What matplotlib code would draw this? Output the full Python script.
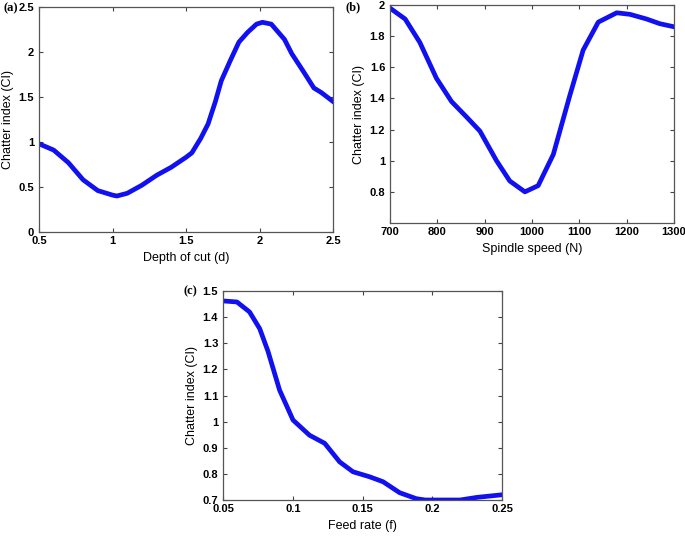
import matplotlib
matplotlib.use("Agg")
import matplotlib.pyplot as plt

# Panel (a): depth of cut
depth = [0.5, 0.6, 0.7, 0.8, 0.9, 1.0, 1.03, 1.1, 1.2, 1.3, 1.4, 1.5, 1.54, 1.6, 1.65,
         1.7, 1.74, 1.8, 1.86, 1.92, 1.98, 2.02, 2.08, 2.17, 2.22, 2.3, 2.37, 2.42, 2.5]
ci_depth = [0.98, 0.91, 0.77, 0.58, 0.46, 0.41, 0.40, 0.43, 0.52, 0.63, 0.72, 0.83, 0.88, 1.04, 1.20,
            1.45, 1.68, 1.90, 2.11, 2.22, 2.31, 2.33, 2.31, 2.14, 1.98, 1.78, 1.60, 1.55, 1.45]

# Panel (b): spindle speed
speed = [700, 732, 763, 798, 830, 862, 890, 925, 953, 985, 1013, 1045, 1080, 1108, 1140,
         1179, 1207, 1242, 1270, 1300]
ci_speed = [1.98, 1.91, 1.76, 1.53, 1.38, 1.28, 1.19, 1.00, 0.87, 0.80, 0.84, 1.04, 1.42, 1.71, 1.89,
            1.95, 1.94, 1.91, 1.88, 1.86]

# Panel (c): feed rate
feed = [0.05, 0.06, 0.069, 0.0763, 0.0822, 0.0906, 0.1002, 0.112, 0.1229, 0.1336, 0.1432,
        0.155, 0.1647, 0.1766, 0.1886, 0.195, 0.203, 0.22, 0.232, 0.25]
ci_feed = [1.462, 1.458, 1.42, 1.356, 1.27, 1.12, 1.006, 0.948, 0.917, 0.846, 0.808,
           0.789, 0.77, 0.728, 0.705, 0.70, 0.70, 0.70, 0.71, 0.72]

W, H = 685, 536
fig = plt.figure(figsize=(W / 100, H / 100), dpi=100)
fig.patch.set_facecolor("white")

LINE_COLOR = "#1010f0"
TICK_FONT = dict(family="Liberation Sans", size=8, weight="bold")
LABEL_FONT = dict(family="Liberation Sans", size=9)


def px_axes(left, top, right, bottom):
    return fig.add_axes([left / W, 1 - bottom / H, (right - left) / W, (bottom - top) / H])


def style(ax, xlim, ylim, xticks, yticks, xlabels, ylabels):
    ax.set_xlim(*xlim)
    ax.set_ylim(*ylim)
    ax.set_xticks(xticks)
    ax.set_yticks(yticks)
    ax.set_xticklabels(xlabels, fontdict=TICK_FONT)
    ax.set_yticklabels(ylabels, fontdict=TICK_FONT)
    ax.tick_params(direction="in", top=True, right=True, length=3, width=0.8,
                   color="#444444")
    ax.tick_params(axis="x", pad=3)
    ax.tick_params(axis="y", pad=3.5)
    for s in ax.spines.values():
        s.set_color("#555555")
        s.set_linewidth(0.9)


# (a)
axa = px_axes(39, 7, 333, 232)
axa.plot(depth, ci_depth, color=LINE_COLOR, lw=3.4, solid_joinstyle="round")
style(axa, (0.5, 2.5), (0, 2.5), [0.5, 1, 1.5, 2, 2.5], [0, 0.5, 1, 1.5, 2, 2.5],
      ["0.5", "1", "1.5", "2", "2.5"], ["0", "0.5", "1", "1.5", "2", "2.5"])
axa.set_xlabel("Depth of cut (d)", **LABEL_FONT, labelpad=4)
axa.set_ylabel("Chatter index (CI)", **LABEL_FONT, labelpad=3)
fig.text(4 / W, 1 - 8 / H, "(a)", family="Liberation Serif", weight="bold", size=9, va="center")

# (b)
axb = px_axes(390, 5, 674, 223)
axb.plot(speed, ci_speed, color=LINE_COLOR, lw=3.4, solid_joinstyle="round")
style(axb, (700, 1300), (0.6, 2.0), [700, 800, 900, 1000, 1100, 1200, 1300],
      [0.8, 1.0, 1.2, 1.4, 1.6, 1.8, 2.0],
      ["700", "800", "900", "1000", "1100", "1200", "1300"],
      ["0.8", "1", "1.2", "1.4", "1.6", "1.8", "2"])
axb.set_xlabel("Spindle speed (N)", **LABEL_FONT, labelpad=4)
axb.set_ylabel("Chatter index (CI)", **LABEL_FONT, labelpad=3)
fig.text(345 / W, 1 - 7 / H, "(b)", family="Liberation Serif", weight="bold", size=9, va="center")

# (c)
axc = px_axes(223, 291, 502, 500)
axc.plot(feed, ci_feed, color=LINE_COLOR, lw=3.4, solid_joinstyle="round")
style(axc, (0.05, 0.25), (0.7, 1.5), [0.05, 0.1, 0.15, 0.2, 0.25],
      [0.7, 0.8, 0.9, 1.0, 1.1, 1.2, 1.3, 1.4, 1.5],
      ["0.05", "0.1", "0.15", "0.2", "0.25"],
      ["0.7", "0.8", "0.9", "1", "1.1", "1.2", "1.3", "1.4", "1.5"])
axc.set_xlabel("Feed rate (f)", **LABEL_FONT, labelpad=4)
axc.set_ylabel("Chatter index (CI)", **LABEL_FONT, labelpad=3)
fig.text(184 / W, 1 - 291 / H, "(c)", family="Liberation Serif", weight="bold", size=9, va="center")

fig.savefig("out.png", dpi=100)
